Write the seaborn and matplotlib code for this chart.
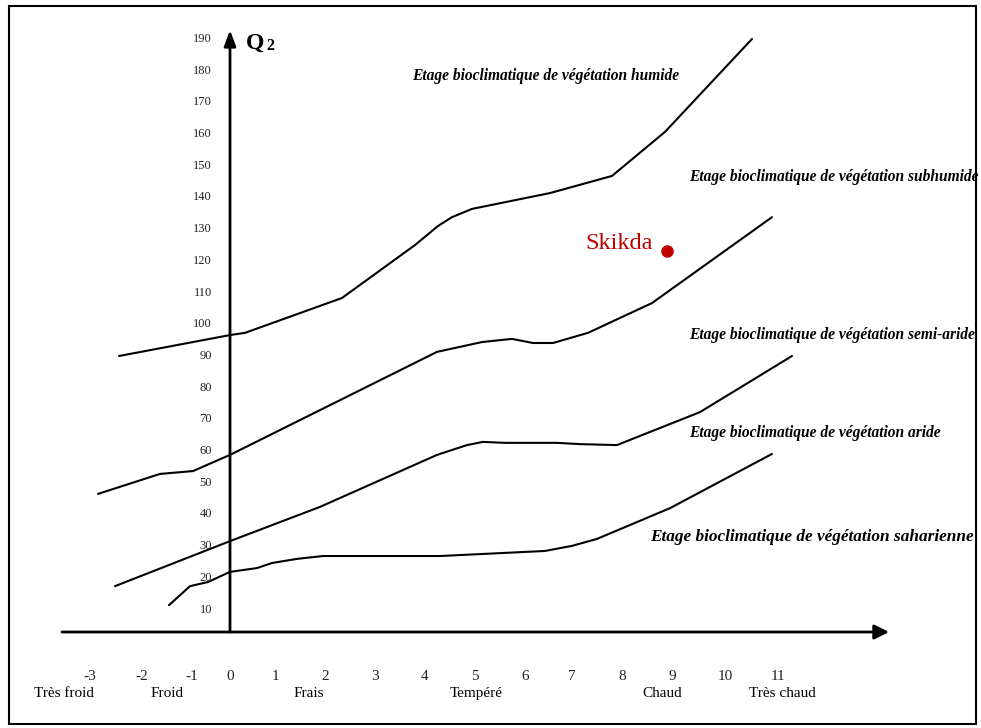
import matplotlib
matplotlib.use('Agg')
import matplotlib.pyplot as plt
import matplotlib.patches as patches
import seaborn as sns
import pandas as pd

# Emberger climagram: m (deg C) on x, Q2 on y
humide_m = [-2.22, 0, 0.3, 2.24, 3.7, 4.16, 4.44, 4.84, 6.4, 7.64, 8.7, 10.44]
humide_q = [89.5, 96.1, 96.8, 107.8, 124.5, 130.5, 133.3, 135.9, 140.9, 146.3, 160.2, 189.5]

subhumide_m = [-2.64, -1.4, -0.74, 0, 4.14, 5.04, 5.64, 6.06, 6.46, 7.16, 8.44, 10.84]
subhumide_q = [46.0, 52.3, 53.2, 58.3, 90.8, 93.9, 94.9, 93.6, 93.6, 96.8, 106.2, 133.3]

semiaride_m = [-2.3, 0, 1.8, 4.14, 4.74, 5.06, 5.5, 6.54, 7.0, 7.74, 9.4, 11.24]
semiaride_q = [16.9, 31.1, 41.9, 58.3, 61.4, 62.4, 62.1, 62.1, 61.7, 61.4, 71.8, 89.5]

aride_m = [-1.22, -0.8, -0.44, 0, 0.54, 0.84, 1.34, 1.86, 4.2, 6.3, 6.84, 7.34, 8.8, 10.84]
aride_q = [10.9, 16.9, 18.2, 21.4, 22.6, 24.2, 25.5, 26.4, 26.4, 28.0, 29.6, 31.8, 41.5, 58.6]

station = 'Skikda'
station_m = 8.74
station_q = 122.6

x_ticks = [-2.8, -1.76, -0.76, 0, 0.9, 1.9, 2.9, 3.9, 4.9, 5.9, 6.84, 7.84, 8.84, 9.9, 10.96]
x_labels = ['-3', '-2', '-1', '0', '1', '2', '3', '4', '5', '6', '7', '8', '9', '10', '11']
y_ticks = list(range(10, 200, 10))

winter_names = ['Très froid', 'Froid', 'Frais', 'Tempéré', 'Chaud', 'Très chaud']
winter_pos = [-3.32, -1.26, 1.58, 4.92, 8.64, 11.04]

zone_names = ['Etage bioclimatique de végétation humide',
              'Etage bioclimatique de végétation subhumide',
              'Etage bioclimatique de végétation semi-aride',
              'Etage bioclimatique de végétation aride',
              'Etage bioclimatique de végétation saharienne']
zone_m = [3.64, 9.18, 9.18, 9.18, 8.4]
zone_q = [177.8, 146.0, 96.1, 65.2, 32.4]
zone_size = [11.2, 11.2, 11.2, 11.2, 12.4]

sns.set_style('white')
plt.rcParams['font.family'] = ['Liberation Serif', 'DejaVu Serif']
plt.rcParams['text.color'] = 'black'

fig = plt.figure(figsize=(9.81, 7.28), dpi=100)
ax = fig.add_axes([0, 0, 1, 1])
ax.set_xlim(-4.6, 15.02)
ax.set_ylim(-27.85, 201.8)

curves = [(humide_m, humide_q), (subhumide_m, subhumide_q),
          (semiaride_m, semiaride_q), (aride_m, aride_q)]
for m, q in curves:
    df = pd.DataFrame({'m': m, 'Q2': q})
    sns.lineplot(data=df, x='m', y='Q2', color='black', linewidth=1.5,
                 sort=False, estimator=None, ax=ax)

# axes drawn as arrows
ax.annotate('', xy=(13.18, 2.43), xytext=(-3.36, 2.43),
            arrowprops=dict(arrowstyle='-|>', color='black', lw=2,
                            mutation_scale=22, shrinkA=0, shrinkB=0))
ax.annotate('', xy=(0, 192.3), xytext=(0, 2.43),
            arrowprops=dict(arrowstyle='-|>,head_length=0.43,head_width=0.16',
                            color='black', lw=2,
                            mutation_scale=22, shrinkA=0, shrinkB=0))

for s in ['top', 'right']:
    ax.spines[s].set_visible(False)
ax.spines['left'].set_position(('data', 0))
ax.spines['bottom'].set_position(('data', 2.43))
ax.spines['left'].set_color('none')
ax.spines['bottom'].set_color('none')

ax.set_yticks(y_ticks)
ax.set_yticklabels([str(v) for v in y_ticks])
ax.set_xticks(x_ticks)
ax.set_xticklabels(x_labels)
ax.tick_params(axis='y', length=0, pad=13, labelsize=9, labelcolor='#222222')
ax.tick_params(axis='x', length=0, pad=27, labelsize=11, labelcolor='#222222')
ax.set_xlabel('')
ax.set_ylabel('')

ax.text(0.32, 188.2, 'Q', fontsize=17, fontweight='bold', va='center', ha='left')
ax.text(0.72, 187.3, '2', fontsize=11.5, fontweight='bold', va='center', ha='left')

for name, pos in zip(winter_names, winter_pos):
    ax.text(pos, -17.1, name, fontsize=11, ha='center', va='center')

for name, m, q, fs in zip(zone_names, zone_m, zone_q, zone_size):
    ax.text(m, q, name, fontsize=fs, fontweight='bold', fontstyle='italic',
            ha='left', va='center')

ax.plot([station_m], [station_q], 'o', color='#C00000', markersize=8)
ax.text(8.46, 125.1, station, color='#C00000', fontsize=17.5,
        ha='right', va='center')

fig.add_artist(patches.Rectangle((9 / 981, 4 / 728), 967 / 981, 718 / 728,
                                 transform=fig.transFigure, fill=False,
                                 edgecolor='black', linewidth=1.5))

fig.savefig('out.png', dpi=100)
